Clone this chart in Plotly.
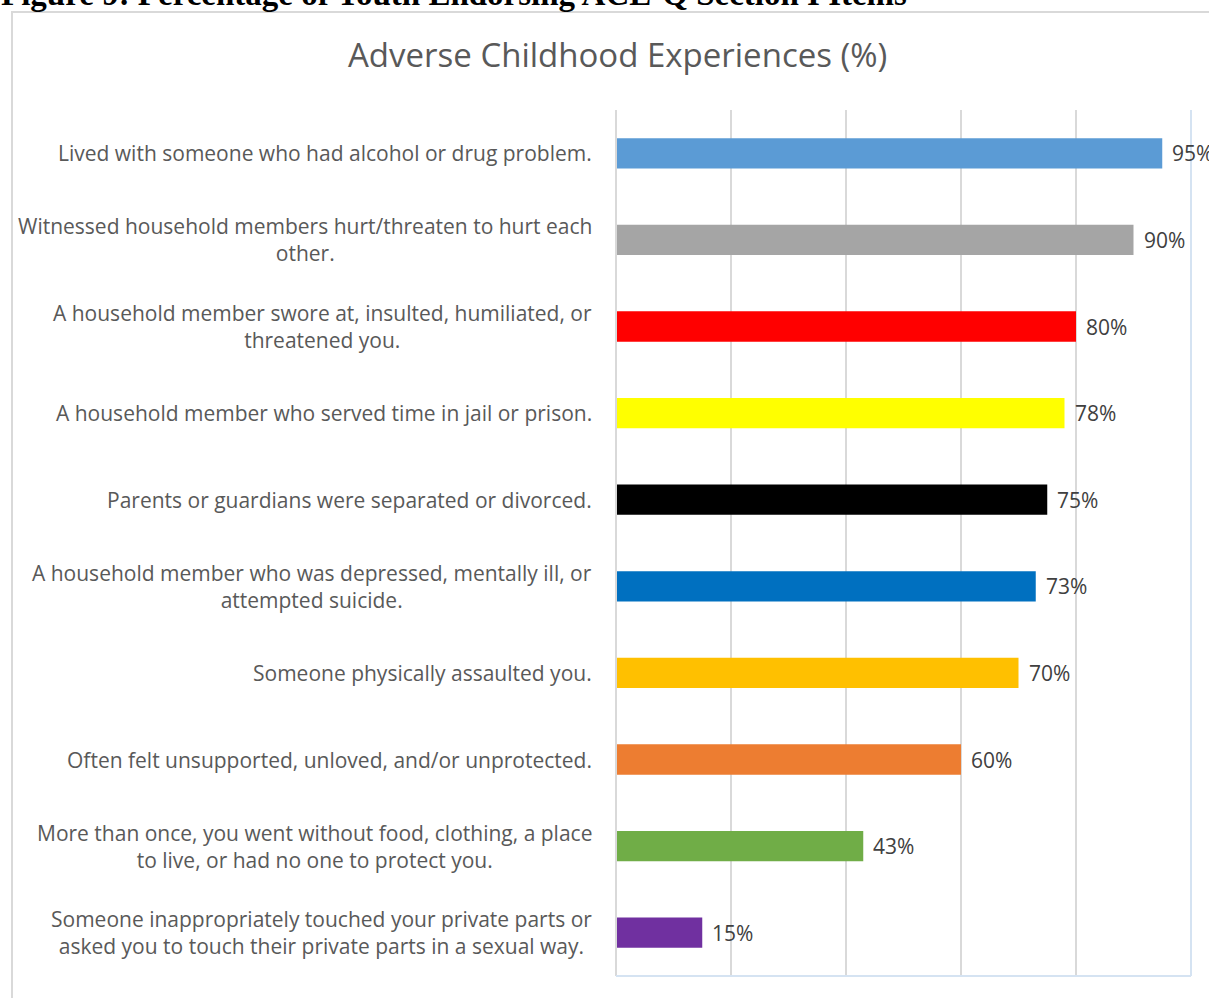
import plotly.graph_objects as go

# Survey items (top to bottom) and share of youth endorsing each
items = [
    "Lived with someone who had alcohol or drug problem.",
    "Witnessed household members hurt/threaten to hurt each<br>other.",
    "A household member swore at, insulted, humiliated, or<br>threatened you.",
    "A household member who served time in jail or prison.",
    "Parents or guardians were separated or divorced.",
    "A household member who was depressed, mentally ill, or<br>attempted suicide.",
    "Someone physically assaulted you.",
    "Often felt unsupported, unloved, and/or unprotected.",
    "More than once, you went without food, clothing, a place<br>to live, or had no one to protect you.",
    "Someone inappropriately touched your private parts or<br>asked you to touch their private parts in a sexual way.",
]
percent = [95, 90, 80, 78, 75, 73, 70, 60, 43, 15]
bar_colors = ["#5B9BD5", "#A5A5A5", "#FF0000", "#FFFF00", "#000000",
              "#0070C0", "#FFC000", "#ED7D31", "#70AD47", "#7030A0"]
x_ticks = [0, 20, 40, 60, 80, 100]

W, H = 1209, 998
PL, PR, PT, PB = 616, 1191, 110, 976


def px(x):
    return (x - PL) / (PR - PL)


def py(y):
    return 1 - (y - PT) / (PB - PT)


LABEL_FONT = "'Open Sans', Lato, sans-serif"

fig = go.Figure(go.Bar(
    x=percent, y=items, orientation="h",
    marker=dict(color=bar_colors, line=dict(width=0)),
    width=0.35, hoverinfo="x+y",
))

annotations = []
for item, val in zip(items, percent):
    annotations.append(dict(
        x=px(594), xref="paper", y=item, yref="y",
        text=item, showarrow=False, xanchor="right", yanchor="middle",
        align="center", font=dict(family=LABEL_FONT, size=21, color="#595959"),
    ))
    annotations.append(dict(
        x=val, xref="x", y=item, yref="y", xshift=8,
        text=f"{val}%", showarrow=False, xanchor="left", yanchor="middle",
        font=dict(family=LABEL_FONT, size=21, color="#404040"),
    ))

annotations.append(dict(
    x=px(617), xref="paper", y=py(55), yref="paper",
    text="Adverse Childhood Experiences (%)", showarrow=False,
    xanchor="center", yanchor="middle",
    font=dict(family=LABEL_FONT, size=33, color="#595959"),
))
annotations.append(dict(
    x=px(-1), xref="paper", y=py(-6), yref="paper",
    text="<b>Figure 9: Percentage of Youth Endorsing ACE-Q Section I Items</b>",
    showarrow=False, xanchor="left", yanchor="middle",
    font=dict(family="'Liberation Serif', 'Times New Roman', serif", size=33, color="#000000"),
))

shapes = [
    # outer chart frame
    dict(type="rect", xref="paper", yref="paper", x0=px(12), x1=px(1230),
         y0=py(12), y1=py(1020), line=dict(color="#D9D9D9", width=2), layer="below"),
    # category axis line
    dict(type="line", xref="paper", yref="paper", x0=0, x1=0, y0=0, y1=1,
         line=dict(color="#D9D9D9", width=2)),
    # plot-area edge lines
    dict(type="line", xref="paper", yref="paper", x0=0, x1=1, y0=0, y1=0,
         line=dict(color="#D5E3F2", width=2)),
    dict(type="line", xref="paper", yref="paper", x0=1, x1=1, y0=0, y1=1,
         line=dict(color="#D5E3F2", width=2)),
]

fig.update_layout(
    width=W, height=H,
    margin=dict(l=PL, r=W - PR, t=PT, b=H - PB, pad=0),
    paper_bgcolor="#FFFFFF", plot_bgcolor="#FFFFFF",
    showlegend=False,
    annotations=annotations, shapes=shapes,
    xaxis=dict(range=[0, 100], tickvals=x_ticks, showticklabels=False,
               showgrid=True, gridcolor="#D9D9D9", gridwidth=1.5,
               zeroline=False, showline=False, fixedrange=True),
    yaxis=dict(categoryorder="array", categoryarray=items,
               range=[len(items) - 0.5, -0.5], showticklabels=False,
               showgrid=False, zeroline=False, showline=False, fixedrange=True),
)

fig.write_html("out.html")
